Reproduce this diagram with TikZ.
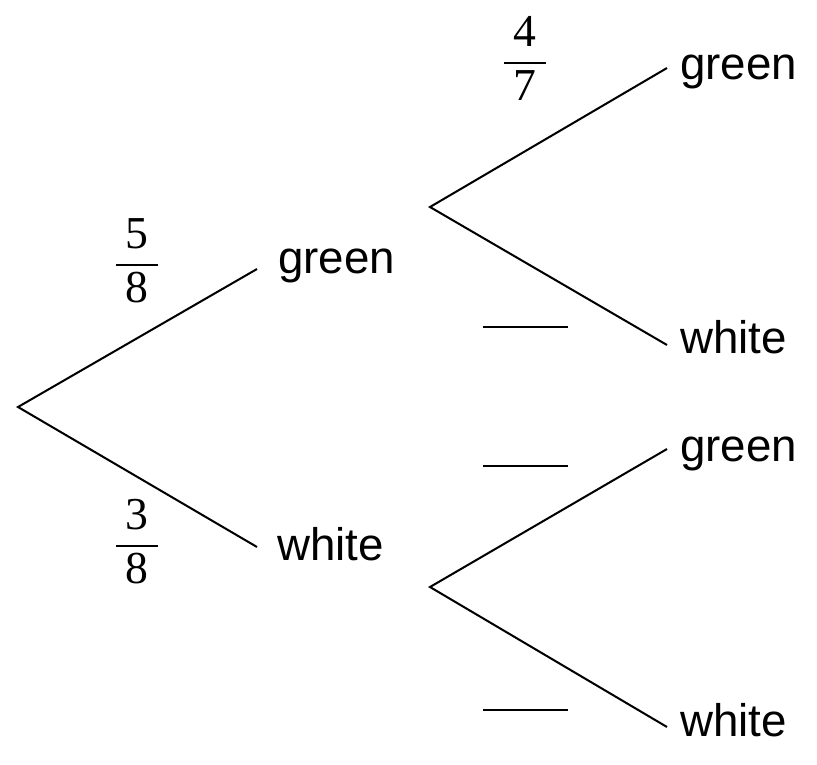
\documentclass[tikz,border=0pt]{standalone}
\usepackage{fontspec}
\setmainfont{Liberation Sans}
\newfontfamily\probfont{Liberation Serif}
\newcommand{\prob}[2]{{\probfont\setlength{\arrayrulewidth}{1.1pt}%
  \begin{tabular}{@{\hspace{0.2em}}c@{\hspace{0.2em}}}#1\\\hline#2\end{tabular}}}

\begin{document}
\begin{tikzpicture}[
  x=0.02cm,y=-0.02cm,
  every node/.style={font=\fontsize{26}{29.5}\selectfont,inner sep=0pt},
  outcome/.style={anchor=base west},
  frac/.style={anchor=center},
  branch/.style={line width=1.15pt},
  blank/.style={line width=1.15pt},
]
\useasboundingbox (0,0) rectangle (817,764);

%% ── First draw ───────────────────────────────────────────────────────────
\coordinate (start) at (18,407);
\coordinate (gtip)  at (257,269);
\coordinate (wtip)  at (257,547);
\node[outcome] (green) at (278,273) {green};
\node[outcome] (white) at (277,560) {white};
\node[frac] (pg) at (137,265) {\prob{5}{8}};
\node[frac] (pw) at (137,546) {\prob{3}{8}};

\draw[branch] (gtip) -- (start) -- (wtip);

%% ── Second draw after green ──────────────────────────────────────────────
\coordinate (gfork) at (430,207);
\coordinate (ggtip) at (667,68);
\coordinate (gwtip) at (667,345);
\node[outcome] (greengreen) at (680,79)  {green};
\node[outcome] (greenwhite) at (680,353) {white};
\node[frac] (pgg) at (525,63) {\prob{4}{7}};

\draw[branch] (ggtip) -- (gfork) -- (gwtip);

%% ── Second draw after white ──────────────────────────────────────────────
\coordinate (wfork) at (430,587);
\coordinate (wgtip) at (667,449);
\coordinate (wwtip) at (667,727);
\node[outcome] (whitegreen) at (680,461) {green};
\node[outcome] (whitewhite) at (680,736) {white};

\draw[branch] (wgtip) -- (wfork) -- (wwtip);

%% ── Blanks to fill in ────────────────────────────────────────────────────
\draw[blank] (483,327) -- (568,327);
\draw[blank] (483,466) -- (568,466);
\draw[blank] (483,710) -- (568,710);

\end{tikzpicture}
\end{document}
